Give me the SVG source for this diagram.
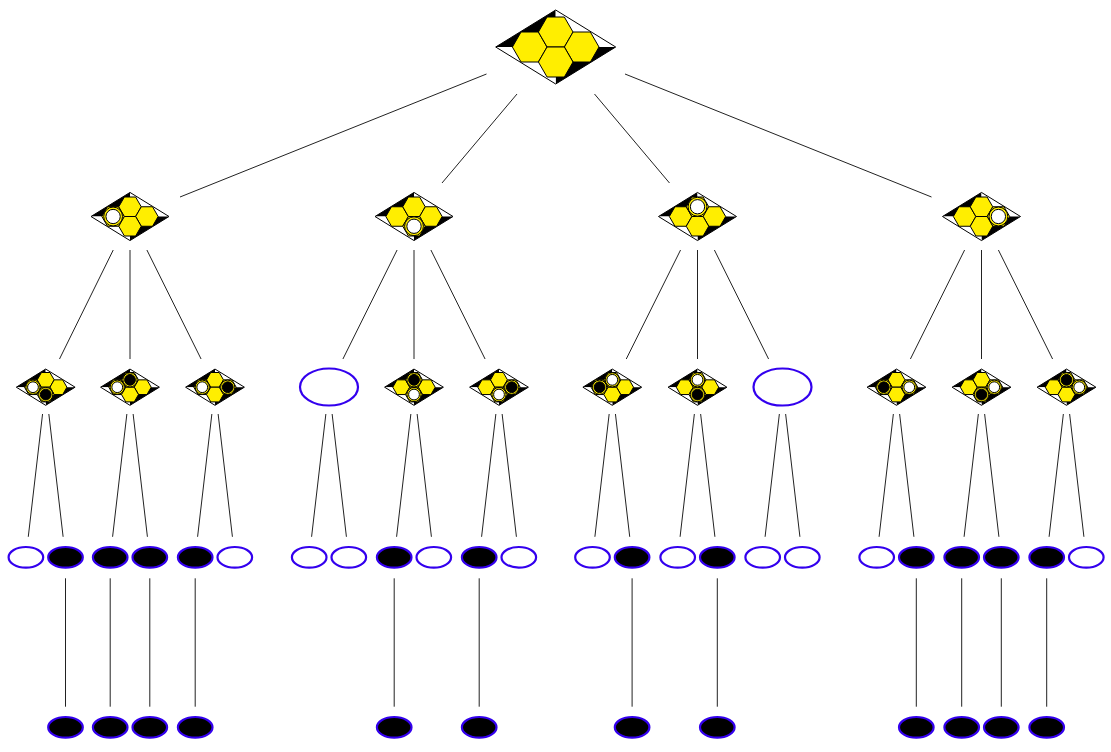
<svg xmlns="http://www.w3.org/2000/svg" xmlns:xlink="http://www.w3.org/1999/xlink" width="1111" height="752" viewBox="0 0 1111 752">
<style>
.bd{stroke:#000;stroke-width:1;vector-effect:non-scaling-stroke}
.hx{fill:#ffee00;stroke:#000;stroke-width:1;vector-effect:non-scaling-stroke}
.st{fill:#ffee00;stroke:#000;stroke-width:1;vector-effect:non-scaling-stroke}
.wi{fill:#fff;stroke:#000;stroke-width:1;vector-effect:non-scaling-stroke}
.bi{fill:#000;stroke:#000;stroke-width:1;vector-effect:non-scaling-stroke}
.e3{fill:#fff;stroke:#3300ee;stroke-width:2.2}
.ew{fill:#fff;stroke:#3300ee;stroke-width:2.2}
.eb{fill:#000;stroke:#3300ee;stroke-width:2.2}
#edges line{stroke:#222;stroke-width:1}
</style>
<defs>
<polygon id="hex" class="hx" points="17.3,0 8.65,15 -8.65,15 -17.3,0 -8.65,-15 8.65,-15"/>
<g id="board">
<polygon points="-60,0 0,-37 0,0" fill="#000"/>
<polygon points="0,-37 60,0 0,0" fill="#fff"/>
<polygon points="60,0 0,37 0,0" fill="#000"/>
<polygon points="0,37 -60,0 0,0" fill="#fff"/>
<polygon class="bd" points="-60,0 0,-37 60,0 0,37" fill="none"/>
<use xlink:href="#hex" x="-26" y="0"/>
<use xlink:href="#hex" x="0" y="-15"/>
<use xlink:href="#hex" x="26" y="0"/>
<use xlink:href="#hex" x="0" y="15"/>
</g>
<g id="ws"><circle class="st" r="14.5"/><circle class="wi" r="11"/></g>
<g id="bs"><circle class="st" r="14.5"/><circle class="bi" r="11"/></g>
</defs>
<rect width="1111" height="752" fill="#fff"/>
<g id="edges">
<line x1="486.5" y1="74" x2="180" y2="197"/>
<line x1="517" y1="94" x2="442" y2="183"/>
<line x1="594.5" y1="94" x2="669.5" y2="183"/>
<line x1="625" y1="74" x2="931.5" y2="197"/>
<line x1="113.24" y1="250" x2="59.5" y2="359"/>
<line x1="130" y1="250" x2="130" y2="359"/>
<line x1="146.9" y1="250" x2="201.09" y2="359"/>
<line x1="397.1" y1="250" x2="342.91" y2="359"/>
<line x1="414" y1="250" x2="414" y2="359"/>
<line x1="430.9" y1="250" x2="485.09" y2="359"/>
<line x1="680.56" y1="250" x2="626.25" y2="359"/>
<line x1="697.5" y1="250" x2="697.5" y2="359"/>
<line x1="714.4" y1="250" x2="768.59" y2="359"/>
<line x1="964.6" y1="250" x2="910.41" y2="359"/>
<line x1="981.5" y1="250" x2="981.5" y2="359"/>
<line x1="998.4" y1="250" x2="1052.59" y2="359"/>
<line x1="42.56" y1="414" x2="28.28" y2="536.8"/>
<line x1="48.84" y1="414" x2="63.12" y2="536.8"/>
<line x1="126.86" y1="414" x2="112.58" y2="536.8"/>
<line x1="133.14" y1="414" x2="147.42" y2="536.8"/>
<line x1="211.86" y1="414" x2="197.58" y2="536.8"/>
<line x1="218.14" y1="414" x2="232.42" y2="536.8"/>
<line x1="325.86" y1="414" x2="311.58" y2="536.8"/>
<line x1="332.14" y1="414" x2="346.42" y2="536.8"/>
<line x1="410.86" y1="414" x2="396.58" y2="536.8"/>
<line x1="417.14" y1="414" x2="431.42" y2="536.8"/>
<line x1="495.86" y1="414" x2="481.58" y2="536.8"/>
<line x1="502.14" y1="414" x2="516.42" y2="536.8"/>
<line x1="609.16" y1="414" x2="594.88" y2="536.8"/>
<line x1="615.44" y1="414" x2="629.72" y2="536.8"/>
<line x1="694.36" y1="414" x2="680.08" y2="536.8"/>
<line x1="700.64" y1="414" x2="714.92" y2="536.8"/>
<line x1="779.36" y1="414" x2="765.08" y2="536.8"/>
<line x1="785.64" y1="414" x2="799.92" y2="536.8"/>
<line x1="893.36" y1="414" x2="879.08" y2="536.8"/>
<line x1="899.64" y1="414" x2="913.92" y2="536.8"/>
<line x1="978.36" y1="414" x2="964.08" y2="536.8"/>
<line x1="984.64" y1="414" x2="998.92" y2="536.8"/>
<line x1="1063.36" y1="414" x2="1049.08" y2="536.8"/>
<line x1="1069.64" y1="414" x2="1083.92" y2="536.8"/>
<line x1="65.5" y1="578.3" x2="65.5" y2="706.7"/>
<line x1="110.2" y1="578.3" x2="110.2" y2="706.7"/>
<line x1="149.8" y1="578.3" x2="149.8" y2="706.7"/>
<line x1="195.2" y1="578.3" x2="195.2" y2="706.7"/>
<line x1="394.2" y1="578.3" x2="394.2" y2="706.7"/>
<line x1="479.2" y1="578.3" x2="479.2" y2="706.7"/>
<line x1="632.1" y1="578.3" x2="632.1" y2="706.7"/>
<line x1="717.3" y1="578.3" x2="717.3" y2="706.7"/>
<line x1="916.3" y1="578.3" x2="916.3" y2="706.7"/>
<line x1="961.7" y1="578.3" x2="961.7" y2="706.7"/>
<line x1="1001.3" y1="578.3" x2="1001.3" y2="706.7"/>
<line x1="1046.7" y1="578.3" x2="1046.7" y2="706.7"/>
</g>
<g id="root" transform="translate(555.7,47)"><use xlink:href="#board"/></g>
<g id="n1" transform="translate(130,216.5) scale(0.65)"><use xlink:href="#board"/><use xlink:href="#ws" x="-26" y="0"/></g>
<g id="n2" transform="translate(414,216.5) scale(0.65)"><use xlink:href="#board"/><use xlink:href="#ws" x="0" y="15"/></g>
<g id="n3" transform="translate(697.5,216.5) scale(0.65)"><use xlink:href="#board"/><use xlink:href="#ws" x="0" y="-15"/></g>
<g id="n4" transform="translate(981.5,216.5) scale(0.65)"><use xlink:href="#board"/><use xlink:href="#ws" x="26" y="0"/></g>
<g id="n11" transform="translate(45.7,387.2) scale(0.49)"><use xlink:href="#board"/><use xlink:href="#ws" x="-26" y="0"/><use xlink:href="#bs" x="0" y="15"/></g>
<g id="n12" transform="translate(130,387.2) scale(0.49)"><use xlink:href="#board"/><use xlink:href="#ws" x="-26" y="0"/><use xlink:href="#bs" x="0" y="-15"/></g>
<g id="n13" transform="translate(215,387.2) scale(0.49)"><use xlink:href="#board"/><use xlink:href="#ws" x="-26" y="0"/><use xlink:href="#bs" x="26" y="0"/></g>
<g id="n21"><ellipse class="e3" cx="329" cy="387" rx="29" ry="18.5"/></g>
<g id="n22" transform="translate(414,387.2) scale(0.49)"><use xlink:href="#board"/><use xlink:href="#bs" x="0" y="-15"/><use xlink:href="#ws" x="0" y="15"/></g>
<g id="n23" transform="translate(499,387.2) scale(0.49)"><use xlink:href="#board"/><use xlink:href="#bs" x="26" y="0"/><use xlink:href="#ws" x="0" y="15"/></g>
<g id="n31" transform="translate(612.3,387.2) scale(0.49)"><use xlink:href="#board"/><use xlink:href="#bs" x="-26" y="0"/><use xlink:href="#ws" x="0" y="-15"/></g>
<g id="n32" transform="translate(697.5,387.2) scale(0.49)"><use xlink:href="#board"/><use xlink:href="#ws" x="0" y="-15"/><use xlink:href="#bs" x="0" y="15"/></g>
<g id="n33"><ellipse class="e3" cx="782.5" cy="387" rx="29" ry="18.5"/></g>
<g id="n41" transform="translate(896.5,387.2) scale(0.49)"><use xlink:href="#board"/><use xlink:href="#bs" x="-26" y="0"/><use xlink:href="#ws" x="26" y="0"/></g>
<g id="n42" transform="translate(981.5,387.2) scale(0.49)"><use xlink:href="#board"/><use xlink:href="#bs" x="0" y="15"/><use xlink:href="#ws" x="26" y="0"/></g>
<g id="n43" transform="translate(1066.5,387.2) scale(0.49)"><use xlink:href="#board"/><use xlink:href="#bs" x="0" y="-15"/><use xlink:href="#ws" x="26" y="0"/></g>
<g id="l4">
<g id="n111"><ellipse class="ew" cx="25.9" cy="557.3" rx="17.3" ry="10.3"/></g>
<g id="n112"><ellipse class="eb" cx="65.5" cy="557.3" rx="17.3" ry="10.3"/></g>
<g id="n121"><ellipse class="eb" cx="110.2" cy="557.3" rx="17.3" ry="10.3"/></g>
<g id="n122"><ellipse class="eb" cx="149.8" cy="557.3" rx="17.3" ry="10.3"/></g>
<g id="n131"><ellipse class="eb" cx="195.2" cy="557.3" rx="17.3" ry="10.3"/></g>
<g id="n132"><ellipse class="ew" cx="234.8" cy="557.3" rx="17.3" ry="10.3"/></g>
<g id="n211"><ellipse class="ew" cx="309.2" cy="557.3" rx="17.3" ry="10.3"/></g>
<g id="n212"><ellipse class="ew" cx="348.8" cy="557.3" rx="17.3" ry="10.3"/></g>
<g id="n221"><ellipse class="eb" cx="394.2" cy="557.3" rx="17.3" ry="10.3"/></g>
<g id="n222"><ellipse class="ew" cx="433.8" cy="557.3" rx="17.3" ry="10.3"/></g>
<g id="n231"><ellipse class="eb" cx="479.2" cy="557.3" rx="17.3" ry="10.3"/></g>
<g id="n232"><ellipse class="ew" cx="518.8" cy="557.3" rx="17.3" ry="10.3"/></g>
<g id="n311"><ellipse class="ew" cx="592.5" cy="557.3" rx="17.3" ry="10.3"/></g>
<g id="n312"><ellipse class="eb" cx="632.1" cy="557.3" rx="17.3" ry="10.3"/></g>
<g id="n321"><ellipse class="ew" cx="677.7" cy="557.3" rx="17.3" ry="10.3"/></g>
<g id="n322"><ellipse class="eb" cx="717.3" cy="557.3" rx="17.3" ry="10.3"/></g>
<g id="n331"><ellipse class="ew" cx="762.7" cy="557.3" rx="17.3" ry="10.3"/></g>
<g id="n332"><ellipse class="ew" cx="802.3" cy="557.3" rx="17.3" ry="10.3"/></g>
<g id="n411"><ellipse class="ew" cx="876.7" cy="557.3" rx="17.3" ry="10.3"/></g>
<g id="n412"><ellipse class="eb" cx="916.3" cy="557.3" rx="17.3" ry="10.3"/></g>
<g id="n421"><ellipse class="eb" cx="961.7" cy="557.3" rx="17.3" ry="10.3"/></g>
<g id="n422"><ellipse class="eb" cx="1001.3" cy="557.3" rx="17.3" ry="10.3"/></g>
<g id="n431"><ellipse class="eb" cx="1046.7" cy="557.3" rx="17.3" ry="10.3"/></g>
<g id="n432"><ellipse class="ew" cx="1086.3" cy="557.3" rx="17.3" ry="10.3"/></g>
</g>
<g id="l5">
<g id="n1121"><ellipse class="eb" cx="65.5" cy="727.3" rx="17.3" ry="10.3"/></g>
<g id="n1211"><ellipse class="eb" cx="110.2" cy="727.3" rx="17.3" ry="10.3"/></g>
<g id="n1221"><ellipse class="eb" cx="149.8" cy="727.3" rx="17.3" ry="10.3"/></g>
<g id="n1311"><ellipse class="eb" cx="195.2" cy="727.3" rx="17.3" ry="10.3"/></g>
<g id="n2211"><ellipse class="eb" cx="394.2" cy="727.3" rx="17.3" ry="10.3"/></g>
<g id="n2311"><ellipse class="eb" cx="479.2" cy="727.3" rx="17.3" ry="10.3"/></g>
<g id="n3121"><ellipse class="eb" cx="632.1" cy="727.3" rx="17.3" ry="10.3"/></g>
<g id="n3221"><ellipse class="eb" cx="717.3" cy="727.3" rx="17.3" ry="10.3"/></g>
<g id="n4121"><ellipse class="eb" cx="916.3" cy="727.3" rx="17.3" ry="10.3"/></g>
<g id="n4211"><ellipse class="eb" cx="961.7" cy="727.3" rx="17.3" ry="10.3"/></g>
<g id="n4221"><ellipse class="eb" cx="1001.3" cy="727.3" rx="17.3" ry="10.3"/></g>
<g id="n4311"><ellipse class="eb" cx="1046.7" cy="727.3" rx="17.3" ry="10.3"/></g>
</g>
</svg>
